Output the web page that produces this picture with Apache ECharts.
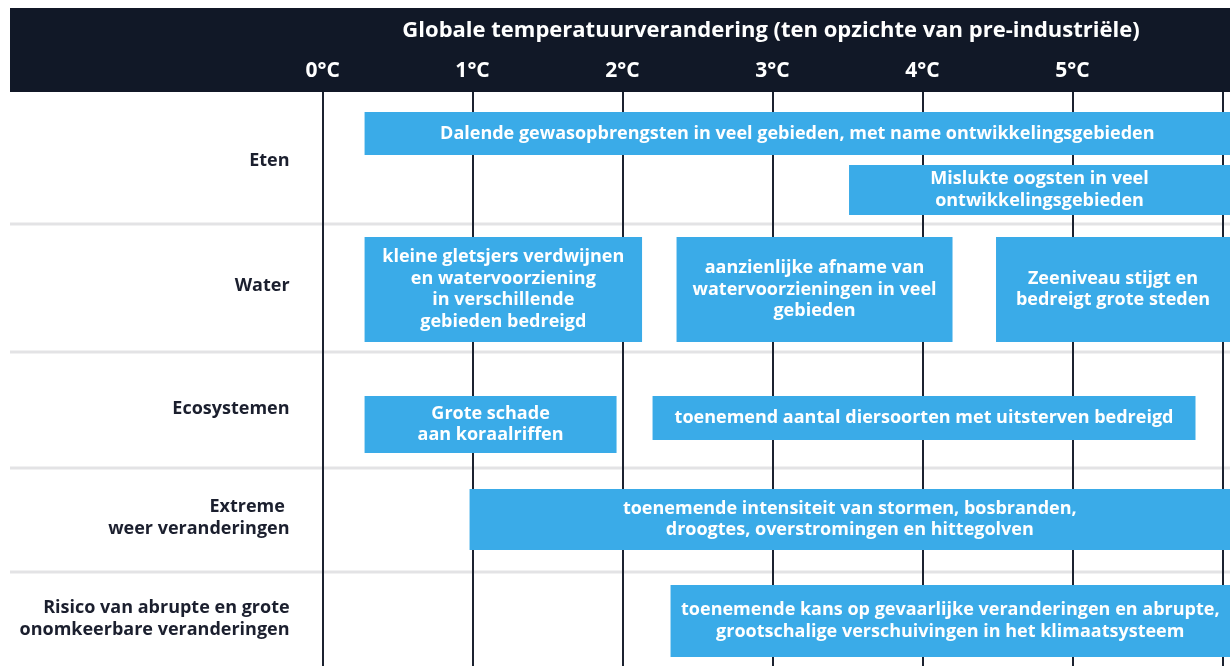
<!DOCTYPE html>
<html>
<head>
<meta charset="utf-8">
<script src="https://cdn.jsdelivr.net/npm/echarts@6/dist/echarts.min.js"></script>
<style>
html,body{margin:0;padding:0;background:#fff;overflow:hidden;}
#chart{width:1230px;height:666px;}
</style>
</head>
<body>
<div id="chart"></div>
<script>
// ---- data ----
const title = 'Globale temperatuurverandering (ten opzichte van pre-industriële)';
const categories = [
  'Eten',
  'Water',
  'Ecosystemen',
  'Extreme \nweer veranderingen',
  'Risico van abrupte en grote\nonomkeerbare veranderingen'
];
const tickValues = [0, 1, 2, 3, 4, 5, 6];
const tickLabels = ['0°C', '1°C', '2°C', '3°C', '4°C', '5°C'];
const barRow   = [0, 0, 1, 1, 1, 2, 2, 3, 4];
const barStart = [0.28, 3.51, 0.28, 2.36, 4.49, 0.28, 2.20, 0.98, 2.32];
const barEnd   = [6.05, 6.05, 2.13, 4.20, 6.05, 1.96, 5.82, 6.05, 6.05];
const barText = [
  'Dalende gewasopbrengsten in veel gebieden, met name ontwikkelingsgebieden',
  'Mislukte oogsten in veel\nontwikkelingsgebieden',
  'kleine gletsjers verdwijnen\nen watervoorziening\nin verschillende\ngebieden bedreigd',
  'aanzienlijke afname van\nwatervoorzieningen in veel\ngebieden',
  'Zeeniveau stijgt en\nbedreigt grote steden',
  'Grote schade\naan koraalriffen',
  'toenemend aantal diersoorten met uitsterven bedreigd',
  'toenemende intensiteit van stormen, bosbranden,\ndroogtes, overstromingen en hittegolven',
  'toenemende kans op gevaarlijke veranderingen en abrupte,\ngrootschalige verschuivingen in het klimaatsysteem'
];

// ---- layout (pixels, not data) ----
const rowHeights = [132, 128, 116, 104, 94];
const rowLabelShift = [3, -2, -1, -2, 0];
const barSlots = [[20, 43], [73, 50], [13, 105], [13, 105], [13, 105], [44, 57], [44, 44], [21, 61], [13, 72]];
const FONT = '"Open Sans", "Noto Sans", sans-serif';
const BAR_COLOR = '#3aabe8';
const INK = '#1b1f2e';

function rowTop(cs, r) {
  let y = cs.y;
  for (let i = 0; i < r; i++) y += rowHeights[i];
  return y;
}

const chart = echarts.init(document.getElementById('chart'), null, {renderer: 'canvas'});

const option = {
  animation: false,
  backgroundColor: '#ffffff',
  grid: {left: 22.6, right: 0, top: 92, bottom: 0, containLabel: false, outerBoundsMode: 'none'},
  xAxis: {
    type: 'value', position: 'top', min: -2, max: 6.05, interval: 1,
    axisLine: {show: false}, axisTick: {show: false}, splitLine: {show: false},
    axisLabel: {
      margin: 10, color: '#ffffff', fontSize: 21, fontWeight: 'bold', fontFamily: FONT,
      showMaxLabel: false,
      formatter: v => tickLabels[v] ?? ''
    }
  },
  yAxis: {type: 'value', min: 0, max: 1, show: false},
  graphic: [
    {type: 'rect', z: -100, silent: true, shape: {x: 10, y: 8, width: 1220, height: 84}, style: {fill: '#111827'}},
    {type: 'text', z: 100, silent: true, x: 771, y: 31,
     style: {text: title, align: 'center', verticalAlign: 'middle', fill: '#ffffff', fontSize: 22, fontWeight: 'bold', fontFamily: FONT}}
  ],
  series: [
    {
      type: 'custom', name: 'rows', z: 1, silent: true,
      data: categories.map((c, i) => [0, i]),
      encode: {x: 0},
      renderItem: (params, api) => {
        const cs = params.coordSys;
        const i = params.dataIndex;
        const top = rowTop(cs, i);
        const x0 = api.coord([0, 0])[0];
        const children = [{
          type: 'text',
          style: {
            text: categories[i], x: x0 - 33, y: top + rowHeights[i] / 2 + rowLabelShift[i],
            align: 'right', verticalAlign: 'middle', fill: INK,
            fontSize: 18, fontWeight: 'bold', fontFamily: FONT, lineHeight: 22
          }
        }];
        if (i > 0) {
          children.push({
            type: 'line',
            shape: {x1: 10, y1: top, x2: cs.x + cs.width, y2: top},
            style: {stroke: '#e3e3e5', lineWidth: 3}
          });
        }
        return {type: 'group', children};
      }
    },
    {
      type: 'custom', name: 'ticks', z: 2, silent: true,
      data: tickValues.map(v => [v]),
      encode: {x: 0},
      renderItem: (params, api) => {
        const cs = params.coordSys;
        const x = Math.round(api.coord([api.value(0), 0])[0]);
        return {
          type: 'line',
          shape: {x1: x, y1: cs.y, x2: x, y2: cs.y + cs.height},
          style: {stroke: '#1c2230', lineWidth: 2}
        };
      }
    },
    {
      type: 'custom', name: 'bars', z: 3, silent: true,
      data: barStart.map((s, i) => [s, barEnd[i], barRow[i]]),
      encode: {x: [0, 1]},
      renderItem: (params, api) => {
        const cs = params.coordSys;
        const i = params.dataIndex;
        const x0 = api.coord([api.value(0), 0])[0];
        const x1 = api.coord([api.value(1), 0])[0];
        const r = api.value(2);
        const slot = barSlots[i];
        const top = rowTop(cs, r) + slot[0];
        const h = slot[1];
        return {
          type: 'group',
          children: [
            {type: 'rect', shape: {x: x0, y: top, width: x1 - x0, height: h}, style: {fill: BAR_COLOR}},
            {type: 'text', style: {
              text: barText[i], x: (x0 + x1) / 2, y: top + h / 2,
              align: 'center', verticalAlign: 'middle', fill: '#ffffff',
              fontSize: 18, fontWeight: 'bold', fontFamily: FONT, lineHeight: 21.5
            }}
          ]
        };
      }
    }
  ]
};
chart.setOption(option);
</script>
</body>
</html>
